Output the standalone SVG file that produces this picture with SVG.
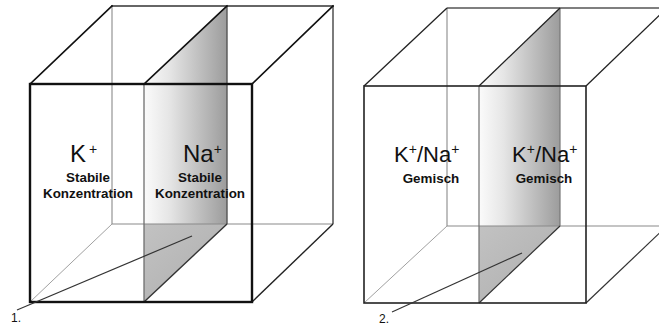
<svg xmlns="http://www.w3.org/2000/svg" width="659" height="328" viewBox="0 0 659 328">
<style>
text{font-family:"Liberation Sans",Arial,sans-serif;fill:#111}
.big{font-size:24px}
.mid{font-size:22px}
.sup{font-size:14px}
.sub{font-size:13.4px;font-weight:bold;text-anchor:middle}
.num{font-size:12px}
.k{stroke:#111;fill:none;stroke-linecap:square}
.thick{stroke-width:2.4}
.med{stroke-width:1.6}
.dg{stroke:#444;stroke-width:1.4;fill:none}
.g{stroke:#8a8a8a;stroke-width:1.1;fill:none}
.lg{stroke:#a0a0a0;stroke-width:1;fill:none}
.lead{stroke:#333;stroke-width:1.2;fill:none}
</style>
<defs>
<linearGradient id="grad" x1="0" y1="0" x2="1" y2="0">
<stop offset="0" stop-color="#fbfbfb"/>
<stop offset="0.3" stop-color="#e6e6e6"/>
<stop offset="1" stop-color="#9c9c9c"/>
</linearGradient>
<linearGradient id="gradLow" x1="0" y1="0" x2="1" y2="1">
<stop offset="0" stop-color="#c2c2c2"/>
<stop offset="1" stop-color="#adadad"/>
</linearGradient>
</defs>
<rect width="659" height="328" fill="#fff"/>

<g id="cube1">
<polygon points="144,84 227,6 227,224 144,224" fill="url(#grad)"/>
<polygon points="144,224 227,224 144,302" fill="url(#gradLow)"/>
<line x1="112" y1="6" x2="112" y2="224" class="g"/>
<line x1="112" y1="224" x2="333" y2="224" class="g"/>
<line x1="30" y1="302" x2="112" y2="224" class="lg"/>
<line x1="144" y1="84" x2="144" y2="302" class="g" style="stroke:#6f6f6f;stroke-width:1.3"/>
<line x1="227" y1="6" x2="227" y2="224" class="dg" style="stroke:#555"/>
<line x1="144" y1="302" x2="227" y2="224" class="dg" style="stroke:#333"/>
<line x1="333" y1="6" x2="333" y2="224" class="dg"/>
<line x1="252" y1="302" x2="333" y2="224" class="dg" style="stroke:#222"/>
<line x1="112" y1="6" x2="333" y2="6" class="k med" style="stroke:#333"/>
<line x1="30" y1="84" x2="112" y2="6" class="k med"/>
<line x1="144" y1="84" x2="227" y2="6" class="k med"/>
<line x1="252" y1="84" x2="333" y2="6" class="k med"/>
<rect x="30" y="84" width="222" height="218" class="k thick"/>
<text x="70" y="162" class="big">K<tspan class="sup" dx="3" dy="-8">+</tspan></text>
<text x="88" y="182" class="sub">Stabile</text>
<text x="88" y="198" class="sub">Konzentration</text>
<text x="183" y="162" class="big">Na<tspan class="sup" dy="-8">+</tspan></text>
<text x="200" y="182" class="sub">Stabile</text>
<text x="200" y="198" class="sub">Konzentration</text>
</g>

<g id="cube2">
<polygon points="479,86 560,8 560,226 479,226" fill="url(#grad)"/>
<polygon points="479,226 560,226 479,303" fill="url(#gradLow)"/>
<line x1="447" y1="8" x2="447" y2="226" class="g"/>
<line x1="447" y1="226" x2="670" y2="226" class="g"/>
<line x1="364" y1="303" x2="447" y2="226" class="lg"/>
<line x1="479" y1="86" x2="479" y2="303" class="g" style="stroke:#6f6f6f;stroke-width:1.2"/>
<line x1="560" y1="8" x2="560" y2="226" class="g" style="stroke:#777;stroke-width:1.2"/>
<line x1="479" y1="303" x2="560" y2="226" class="dg" style="stroke:#333;stroke-width:1.2"/>
<line x1="586" y1="303" x2="669" y2="224" class="dg" style="stroke:#333;stroke-width:1.2"/>
<line x1="447" y1="8" x2="670" y2="8" class="dg" style="stroke:#555;stroke-width:1.3"/>
<line x1="364" y1="86" x2="447" y2="8" class="dg" style="stroke:#222;stroke-width:1.3"/>
<line x1="479" y1="86" x2="560" y2="8" class="dg" style="stroke:#222;stroke-width:1.3"/>
<line x1="586" y1="86" x2="669" y2="6" class="dg" style="stroke:#222;stroke-width:1.3"/>
<rect x="364" y="86" width="222" height="217" class="dg" style="stroke:#222;stroke-width:1.6"/>
<text x="394" y="162" class="mid">K<tspan class="sup" font-size="12" dy="-8">+</tspan><tspan dy="8">/Na</tspan><tspan class="sup" font-size="12" dy="-8">+</tspan></text>
<text x="431" y="183" class="sub">Gemisch</text>
<text x="512" y="162" class="mid">K<tspan class="sup" font-size="12" dy="-8">+</tspan><tspan dy="8">/Na</tspan><tspan class="sup" font-size="12" dy="-8">+</tspan></text>
<text x="544" y="183" class="sub">Gemisch</text>
</g>

<g id="connectors">
<line x1="192" y1="236" x2="17" y2="310" class="lead"/>
<line x1="522" y1="253" x2="392" y2="312" class="lead"/>
</g>

<g id="labels">
<text x="11" y="322" class="num">1.</text>
<text x="379" y="323" class="num">2.</text>
</g>
</svg>
